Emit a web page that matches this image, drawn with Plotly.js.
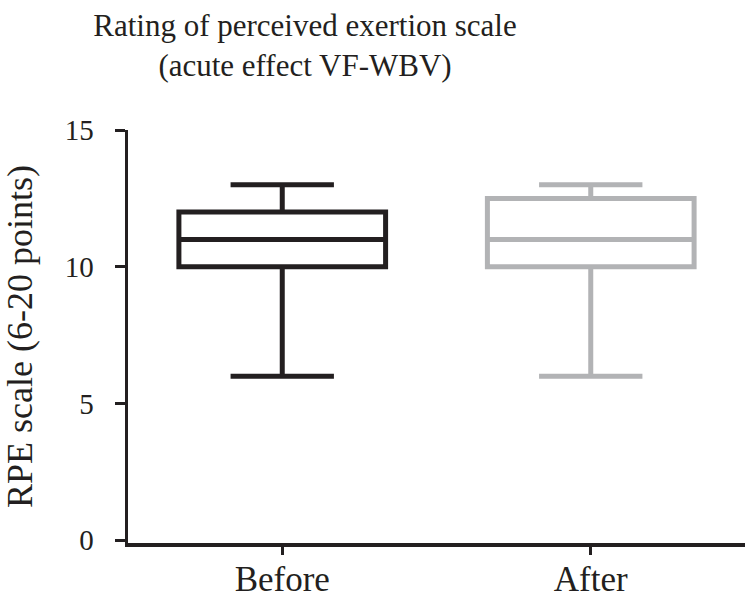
<!DOCTYPE html>
<html>
<head>
<meta charset="utf-8">
<script src="https://cdn.plot.ly/plotly-3.0.1.min.js"></script>
<style>
  html, body { margin: 0; padding: 0; background: #ffffff; }
  #chart { width: 745px; height: 598px; }
</style>
</head>
<body>
<div id="chart"></div>
<script>
// Data (RPE scale, 6-20 points)
const categories = ["Before", "After"];
const lowerWhisker = [6, 6];
const q1Values = [10, 10];
const medianValues = [11, 11];
const q3Values = [12, 12.5];
const upperWhisker = [13, 13];
const seriesColors = ["#231f20", "#b2b3b5"];
const yTickValues = [0, 5, 10, 15];

const FONT = '"Liberation Serif", "Times New Roman", serif';
const INK = "#231f20";

const traces = categories.map((cat, i) => ({
  type: "box",
  name: cat,
  x: [cat],
  q1: [q1Values[i]],
  median: [medianValues[i]],
  q3: [q3Values[i]],
  lowerfence: [lowerWhisker[i]],
  upperfence: [upperWhisker[i]],
  width: 0.67,
  line: { color: seriesColors[i], width: 5 },
  fillcolor: "rgba(0,0,0,0)",
  whiskerwidth: 0.5,
  boxpoints: false,
  hoverinfo: "skip"
}));

const layout = {
  width: 745,
  height: 598,
  margin: { l: 128, r: 0, t: 130, b: 55, pad: 0 },
  paper_bgcolor: "#ffffff",
  plot_bgcolor: "#ffffff",
  showlegend: false,
  boxmode: "overlay",
  font: { family: FONT, color: INK },
  title: {
    text: "Rating of perceived exertion scale<br>(acute effect VF-WBV)",
    font: { family: FONT, size: 31, color: INK },
    x: 305 / 745,
    xanchor: "center",
    xref: "container",
    y: 1 - 36 / 598,
    yanchor: "middle",
    yref: "container"
  },
  xaxis: {
    type: "category",
    categoryorder: "array",
    categoryarray: categories,
    range: [-0.5, 1.5],
    showgrid: false,
    zeroline: false,
    showline: true,
    linecolor: INK,
    linewidth: 4,
    ticks: "outside",
    ticklen: 8,
    tickwidth: 3,
    tickcolor: INK,
    ticklabelstandoff: -6,
    tickfont: { family: FONT, size: 35, color: INK },
    fixedrange: true
  },
  yaxis: {
    range: [-0.1, 15],
    tickvals: yTickValues,
    ticktext: yTickValues.map(String),
    showgrid: false,
    zeroline: false,
    showline: true,
    linecolor: INK,
    linewidth: 3.5,
    ticks: "outside",
    ticklen: 10,
    tickwidth: 3,
    tickcolor: INK,
    ticklabelstandoff: 15,
    tickfont: { family: FONT, size: 29, color: INK },
    title: {
      text: "RPE scale (6-20 points)",
      font: { family: FONT, size: 36, color: INK },
      standoff: 22
    },
    automargin: false,
    fixedrange: true
  }
};

Plotly.newPlot("chart", traces, layout, { displayModeBar: false, staticPlot: true });
</script>
</body>
</html>
